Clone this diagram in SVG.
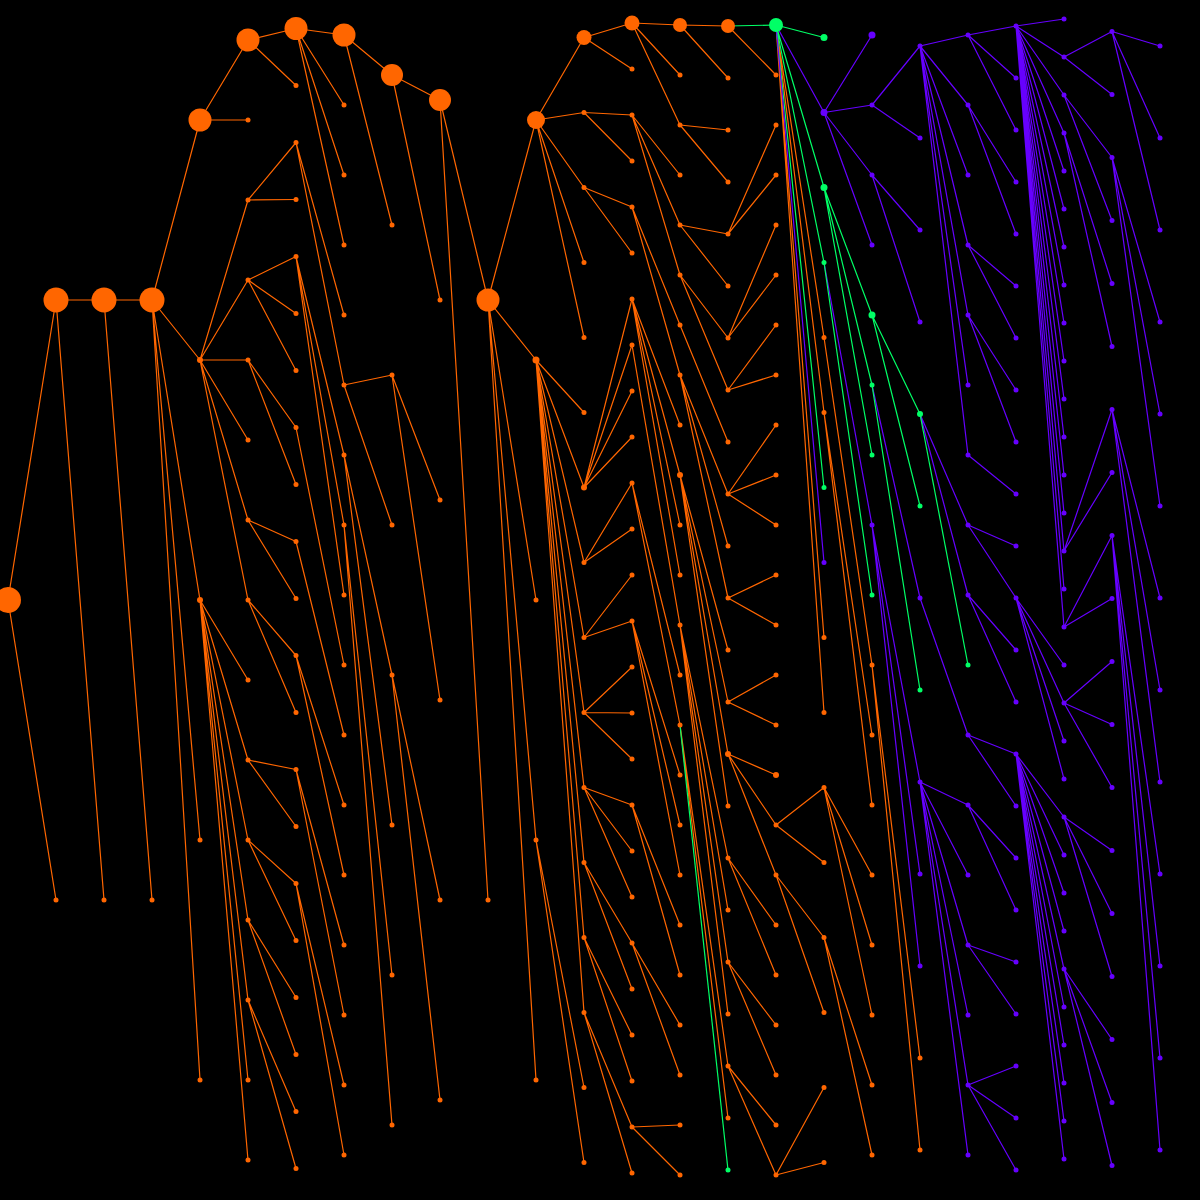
<svg xmlns="http://www.w3.org/2000/svg" width="1200" height="1200" viewBox="0 0 1200 1200">
<defs>
<style>
#edges path{fill:none;stroke-width:1.2}
path.o{stroke:#ff6600} path.g{stroke:#00ff66} path.p{stroke:#6600ff}
circle.o{fill:#ff6600} circle.g{fill:#00ff66} circle.p{fill:#6600ff}
</style>
</defs>
<rect width="1200" height="1200" fill="#000"/>
<g id="edges">
<path class="o" d="M8 600L56 300M8 600L56 900M56 300L104 300M56 300L104 900M104 300L152 300M104 300L152 900"/>
<path class="o" d="M152 300L200 120M152 300L200 360M152 300L200 600M152 300L200 840M152 300L200 1080"/>
<path class="o" d="M200 120L248 40M200 120L248 120M200 360L248 200M200 360L248 280M200 360L248 360M200 360L248 440M200 360L248 520M200 360L248 600M200 600L248 680M200 600L248 760M200 600L248 840M200 600L248 920M200 600L248 1000M200 600L248 1080M200 600L248 1160"/>
<path class="o" d="M248 40L296 28.5M248 40L296 85.5M248 200L296 142.5M248 200L296 199.5M248 280L296 256.5M248 280L296 313.5M248 280L296 370.5M248 360L296 427.5M248 360L296 484.5M248 520L296 541.5M248 520L296 598.5M248 600L296 655.5M248 600L296 712.5M248 760L296 769.5M248 760L296 826.5M248 840L296 883.5M248 840L296 940.5M248 920L296 997.5M248 920L296 1054.5M248 1000L296 1111.5M248 1000L296 1168.5"/>
<path class="o" d="M296 28.5L344 35M296 28.5L344 105M296 28.5L344 175M296 28.5L344 245M296 142.5L344 315M296 142.5L344 385M296 256.5L344 455M296 256.5L344 525M296 256.5L344 595M296 427.5L344 665M296 541.5L344 735M296 655.5L344 805M296 655.5L344 875M296 769.5L344 945M296 769.5L344 1015M296 883.5L344 1085M296 883.5L344 1155"/>
<path class="o" d="M344 35L392 75M344 35L392 225M344 385L392 375M344 385L392 525M344 455L392 675M344 455L392 825M344 525L392 975M344 525L392 1125"/>
<path class="o" d="M392 75L440 100M392 75L440 300M392 375L440 500M392 375L440 700M392 675L440 900M392 675L440 1100"/>
<path class="o" d="M440 100L488 300M440 100L488 900M488 300L536 120M488 300L536 360M488 300L536 600M488 300L536 840M488 300L536 1080"/>
<path class="o" d="M536 120L584 37.5M536 120L584 112.5M536 120L584 187.5M536 120L584 262.5M536 120L584 337.5M536 360L584 412.5M536 360L584 487.5M536 360L584 562.5M536 360L584 637.5M536 360L584 712.5M536 360L584 787.5M536 360L584 862.5M536 360L584 937.5M536 360L584 1012.5M536 840L584 1087.5M536 840L584 1162.5"/>
<path class="o" d="M584 37.5L632 23M584 37.5L632 69M584 112.5L632 115M584 112.5L632 161M584 187.5L632 207M584 187.5L632 253M584 487.5L632 299M584 487.5L632 345M584 487.5L632 391M584 487.5L632 437M584 562.5L632 483M584 562.5L632 529M584 637.5L632 575M584 637.5L632 621M584 712.5L632 667M584 712.5L632 713M584 712.5L632 759M584 787.5L632 805M584 787.5L632 851M584 787.5L632 897M584 862.5L632 943M584 862.5L632 989M584 937.5L632 1035M584 937.5L632 1081M584 1012.5L632 1127M584 1012.5L632 1173"/>
<path class="o" d="M632 23L680 25M632 23L680 75M632 23L680 125M632 115L680 175M632 115L680 225M632 115L680 275M632 207L680 325M632 207L680 375M632 299L680 425M632 299L680 475M632 299L680 525M632 299L680 575M632 345L680 625M632 483L680 675M632 483L680 725M632 621L680 775M632 621L680 825M632 621L680 875M632 805L680 925M632 805L680 975M632 943L680 1025M632 943L680 1075M632 1127L680 1125M632 1127L680 1175"/>
<path class="o" d="M680 25L728 26M680 25L728 78M680 125L728 130M680 125L728 182M680 225L728 234M680 225L728 286M680 275L728 338M680 275L728 390M680 325L728 442M680 375L728 494M680 375L728 546M680 375L728 598M680 475L728 650M680 475L728 702M680 475L728 754M680 475L728 806M680 625L728 858M680 625L728 910M680 625L728 962M680 625L728 1014M680 725L728 1066M680 725L728 1118"/>
<path class="g" d="M680 725L728 1170"/>
<path class="g" d="M728 26L776 25"/>
<path class="o" d="M728 26L776 75M728 234L776 125M728 234L776 175M728 338L776 225M728 338L776 275M728 390L776 325M728 390L776 375M728 494L776 425M728 494L776 475M728 494L776 525M728 598L776 575M728 598L776 625M728 702L776 675M728 702L776 725M728 754L776 775M728 754L776 825M728 754L776 875M728 858L776 925M728 858L776 975M728 962L776 1025M728 962L776 1075M728 1066L776 1125M728 1066L776 1175"/>
<path class="o" d="M776 25L824 337.5M776 25L824 412.5M776 25L824 637.5M776 25L824 712.5M776 825L824 787.5M776 825L824 862.5M776 875L824 937.5M776 875L824 1012.5M776 1175L824 1087.5M776 1175L824 1162.5"/>
<path class="g" d="M776 25L824 37.5M776 25L824 187.5M776 25L824 262.5M776 25L824 487.5"/>
<path class="p" d="M776 25L824 112.5M776 25L824 562.5"/>
<path class="p" d="M824 112.5L872 35M824 112.5L872 105M824 112.5L872 175M824 112.5L872 245M824 262.5L872 525"/>
<path class="g" d="M824 187.5L872 315M824 187.5L872 385M824 187.5L872 455M824 262.5L872 595"/>
<path class="o" d="M824 337.5L872 665M824 412.5L872 735M824 412.5L872 805M824 787.5L872 875M824 787.5L872 945M824 787.5L872 1015M824 937.5L872 1085M824 937.5L872 1155"/>
<path class="p" d="M872 105L920 46M872 105L920 138M872 175L920 230M872 175L920 322M872 385L920 598M872 525L920 782M872 525L920 874M872 525L920 966"/>
<path class="g" d="M872 315L920 414M872 315L920 506M872 385L920 690"/>
<path class="o" d="M872 665L920 1058M872 665L920 1150"/>
<path class="p" d="M920 46L968 35M920 46L968 105M920 46L968 175M920 46L968 245M920 46L968 315M920 46L968 385M920 46L968 455M920 414L968 525M920 414L968 595M920 598L968 735M920 782L968 805M920 782L968 875M920 782L968 945M920 782L968 1015M920 782L968 1085M920 782L968 1155"/>
<path class="g" d="M920 414L968 665"/>
<path class="p" d="M968 35L1016 26M968 35L1016 78M968 35L1016 130M968 105L1016 182M968 105L1016 234M968 245L1016 286M968 245L1016 338M968 315L1016 390M968 315L1016 442M968 455L1016 494M968 525L1016 546M968 525L1016 598M968 595L1016 650M968 595L1016 702M968 735L1016 754M968 735L1016 806M968 805L1016 858M968 805L1016 910M968 945L1016 962M968 945L1016 1014M968 1085L1016 1066M968 1085L1016 1118M968 1085L1016 1170"/>
<path class="p" d="M1016 26L1064 19M1016 26L1064 57M1016 26L1064 95M1016 26L1064 133M1016 26L1064 171M1016 26L1064 209M1016 26L1064 247M1016 26L1064 285M1016 26L1064 323M1016 26L1064 361M1016 26L1064 399M1016 26L1064 437M1016 26L1064 475M1016 26L1064 513M1016 26L1064 551M1016 26L1064 589M1016 26L1064 627M1016 598L1064 665M1016 598L1064 703M1016 598L1064 741M1016 598L1064 779M1016 754L1064 817M1016 754L1064 855M1016 754L1064 893M1016 754L1064 931M1016 754L1064 969M1016 754L1064 1007M1016 754L1064 1045M1016 754L1064 1083M1016 754L1064 1121M1016 754L1064 1159"/>
<path class="p" d="M1064 57L1112 31.5M1064 57L1112 94.5M1064 95L1112 157.5M1064 95L1112 220.5M1064 133L1112 283.5M1064 133L1112 346.5M1064 551L1112 409.5M1064 551L1112 472.5M1064 627L1112 535.5M1064 627L1112 598.5M1064 703L1112 661.5M1064 703L1112 724.5M1064 703L1112 787.5M1064 817L1112 850.5M1064 817L1112 913.5M1064 817L1112 976.5M1064 969L1112 1039.5M1064 969L1112 1102.5M1064 969L1112 1165.5"/>
<path class="p" d="M1112 31.5L1160 46M1112 31.5L1160 138M1112 31.5L1160 230M1112 157.5L1160 322M1112 157.5L1160 414M1112 157.5L1160 506M1112 409.5L1160 598M1112 409.5L1160 690M1112 409.5L1160 782M1112 535.5L1160 874M1112 535.5L1160 966M1112 535.5L1160 1058M1112 535.5L1160 1150"/>
</g>
<g id="nodes">
<g id="n0-0"><circle class="o" cx="8" cy="600" r="13"/></g>
<g id="n1-0"><circle class="o" cx="56" cy="300" r="12.5"/></g>
<g id="n1-1"><circle class="o" cx="56" cy="900" r="2.5"/></g>
<g id="n2-0"><circle class="o" cx="104" cy="300" r="12.5"/></g>
<g id="n2-1"><circle class="o" cx="104" cy="900" r="2.5"/></g>
<g id="n3-0"><circle class="o" cx="152" cy="300" r="12.5"/></g>
<g id="n3-1"><circle class="o" cx="152" cy="900" r="2.5"/></g>
<g id="n4-0"><circle class="o" cx="200" cy="120" r="11.5"/></g>
<g id="n4-1"><circle class="o" cx="200" cy="360" r="3"/></g>
<g id="n4-2"><circle class="o" cx="200" cy="600" r="3"/></g>
<g id="n4-3"><circle class="o" cx="200" cy="840" r="2.5"/></g>
<g id="n4-4"><circle class="o" cx="200" cy="1080" r="2.5"/></g>
<g id="n5-0"><circle class="o" cx="248" cy="40" r="11.5"/></g>
<g id="n5-1"><circle class="o" cx="248" cy="120" r="2.5"/></g>
<g id="n5-2"><circle class="o" cx="248" cy="200" r="2.5"/></g>
<g id="n5-3"><circle class="o" cx="248" cy="280" r="2.5"/></g>
<g id="n5-4"><circle class="o" cx="248" cy="360" r="2.5"/></g>
<g id="n5-5"><circle class="o" cx="248" cy="440" r="2.5"/></g>
<g id="n5-6"><circle class="o" cx="248" cy="520" r="2.5"/></g>
<g id="n5-7"><circle class="o" cx="248" cy="600" r="2.5"/></g>
<g id="n5-8"><circle class="o" cx="248" cy="680" r="2.5"/></g>
<g id="n5-9"><circle class="o" cx="248" cy="760" r="2.5"/></g>
<g id="n5-10"><circle class="o" cx="248" cy="840" r="2.5"/></g>
<g id="n5-11"><circle class="o" cx="248" cy="920" r="2.5"/></g>
<g id="n5-12"><circle class="o" cx="248" cy="1000" r="2.5"/></g>
<g id="n5-13"><circle class="o" cx="248" cy="1080" r="2.5"/></g>
<g id="n5-14"><circle class="o" cx="248" cy="1160" r="2.5"/></g>
<g id="n6-0"><circle class="o" cx="296" cy="28.5" r="11.5"/></g>
<g id="n6-1"><circle class="o" cx="296" cy="85.5" r="2.5"/></g>
<g id="n6-2"><circle class="o" cx="296" cy="142.5" r="2.5"/></g>
<g id="n6-3"><circle class="o" cx="296" cy="199.5" r="2.5"/></g>
<g id="n6-4"><circle class="o" cx="296" cy="256.5" r="2.5"/></g>
<g id="n6-5"><circle class="o" cx="296" cy="313.5" r="2.5"/></g>
<g id="n6-6"><circle class="o" cx="296" cy="370.5" r="2.5"/></g>
<g id="n6-7"><circle class="o" cx="296" cy="427.5" r="2.5"/></g>
<g id="n6-8"><circle class="o" cx="296" cy="484.5" r="2.5"/></g>
<g id="n6-9"><circle class="o" cx="296" cy="541.5" r="2.5"/></g>
<g id="n6-10"><circle class="o" cx="296" cy="598.5" r="2.5"/></g>
<g id="n6-11"><circle class="o" cx="296" cy="655.5" r="2.5"/></g>
<g id="n6-12"><circle class="o" cx="296" cy="712.5" r="2.5"/></g>
<g id="n6-13"><circle class="o" cx="296" cy="769.5" r="2.5"/></g>
<g id="n6-14"><circle class="o" cx="296" cy="826.5" r="2.5"/></g>
<g id="n6-15"><circle class="o" cx="296" cy="883.5" r="2.5"/></g>
<g id="n6-16"><circle class="o" cx="296" cy="940.5" r="2.5"/></g>
<g id="n6-17"><circle class="o" cx="296" cy="997.5" r="2.5"/></g>
<g id="n6-18"><circle class="o" cx="296" cy="1054.5" r="2.5"/></g>
<g id="n6-19"><circle class="o" cx="296" cy="1111.5" r="2.5"/></g>
<g id="n6-20"><circle class="o" cx="296" cy="1168.5" r="2.5"/></g>
<g id="n7-0"><circle class="o" cx="344" cy="35" r="11.5"/></g>
<g id="n7-1"><circle class="o" cx="344" cy="105" r="2.5"/></g>
<g id="n7-2"><circle class="o" cx="344" cy="175" r="2.5"/></g>
<g id="n7-3"><circle class="o" cx="344" cy="245" r="2.5"/></g>
<g id="n7-4"><circle class="o" cx="344" cy="315" r="2.5"/></g>
<g id="n7-5"><circle class="o" cx="344" cy="385" r="2.5"/></g>
<g id="n7-6"><circle class="o" cx="344" cy="455" r="2.5"/></g>
<g id="n7-7"><circle class="o" cx="344" cy="525" r="2.5"/></g>
<g id="n7-8"><circle class="o" cx="344" cy="595" r="2.5"/></g>
<g id="n7-9"><circle class="o" cx="344" cy="665" r="2.5"/></g>
<g id="n7-10"><circle class="o" cx="344" cy="735" r="2.5"/></g>
<g id="n7-11"><circle class="o" cx="344" cy="805" r="2.5"/></g>
<g id="n7-12"><circle class="o" cx="344" cy="875" r="2.5"/></g>
<g id="n7-13"><circle class="o" cx="344" cy="945" r="2.5"/></g>
<g id="n7-14"><circle class="o" cx="344" cy="1015" r="2.5"/></g>
<g id="n7-15"><circle class="o" cx="344" cy="1085" r="2.5"/></g>
<g id="n7-16"><circle class="o" cx="344" cy="1155" r="2.5"/></g>
<g id="n8-0"><circle class="o" cx="392" cy="75" r="11"/></g>
<g id="n8-1"><circle class="o" cx="392" cy="225" r="2.5"/></g>
<g id="n8-2"><circle class="o" cx="392" cy="375" r="2.5"/></g>
<g id="n8-3"><circle class="o" cx="392" cy="525" r="2.5"/></g>
<g id="n8-4"><circle class="o" cx="392" cy="675" r="2.5"/></g>
<g id="n8-5"><circle class="o" cx="392" cy="825" r="2.5"/></g>
<g id="n8-6"><circle class="o" cx="392" cy="975" r="2.5"/></g>
<g id="n8-7"><circle class="o" cx="392" cy="1125" r="2.5"/></g>
<g id="n9-0"><circle class="o" cx="440" cy="100" r="11"/></g>
<g id="n9-1"><circle class="o" cx="440" cy="300" r="2.5"/></g>
<g id="n9-2"><circle class="o" cx="440" cy="500" r="2.5"/></g>
<g id="n9-3"><circle class="o" cx="440" cy="700" r="2.5"/></g>
<g id="n9-4"><circle class="o" cx="440" cy="900" r="2.5"/></g>
<g id="n9-5"><circle class="o" cx="440" cy="1100" r="2.5"/></g>
<g id="n10-0"><circle class="o" cx="488" cy="300" r="11.5"/></g>
<g id="n10-1"><circle class="o" cx="488" cy="900" r="2.5"/></g>
<g id="n11-0"><circle class="o" cx="536" cy="120" r="9"/></g>
<g id="n11-1"><circle class="o" cx="536" cy="360" r="3.5"/></g>
<g id="n11-2"><circle class="o" cx="536" cy="600" r="2.5"/></g>
<g id="n11-3"><circle class="o" cx="536" cy="840" r="2.5"/></g>
<g id="n11-4"><circle class="o" cx="536" cy="1080" r="2.5"/></g>
<g id="n12-0"><circle class="o" cx="584" cy="37.5" r="7.5"/></g>
<g id="n12-1"><circle class="o" cx="584" cy="112.5" r="2.5"/></g>
<g id="n12-2"><circle class="o" cx="584" cy="187.5" r="2.5"/></g>
<g id="n12-3"><circle class="o" cx="584" cy="262.5" r="2.5"/></g>
<g id="n12-4"><circle class="o" cx="584" cy="337.5" r="2.5"/></g>
<g id="n12-5"><circle class="o" cx="584" cy="412.5" r="2.5"/></g>
<g id="n12-6"><circle class="o" cx="584" cy="487.5" r="3"/></g>
<g id="n12-7"><circle class="o" cx="584" cy="562.5" r="2.5"/></g>
<g id="n12-8"><circle class="o" cx="584" cy="637.5" r="2.5"/></g>
<g id="n12-9"><circle class="o" cx="584" cy="712.5" r="2.5"/></g>
<g id="n12-10"><circle class="o" cx="584" cy="787.5" r="2.5"/></g>
<g id="n12-11"><circle class="o" cx="584" cy="862.5" r="2.5"/></g>
<g id="n12-12"><circle class="o" cx="584" cy="937.5" r="2.5"/></g>
<g id="n12-13"><circle class="o" cx="584" cy="1012.5" r="2.5"/></g>
<g id="n12-14"><circle class="o" cx="584" cy="1087.5" r="2.5"/></g>
<g id="n12-15"><circle class="o" cx="584" cy="1162.5" r="2.5"/></g>
<g id="n13-0"><circle class="o" cx="632" cy="23" r="7.5"/></g>
<g id="n13-1"><circle class="o" cx="632" cy="69" r="2.5"/></g>
<g id="n13-2"><circle class="o" cx="632" cy="115" r="2.5"/></g>
<g id="n13-3"><circle class="o" cx="632" cy="161" r="2.5"/></g>
<g id="n13-4"><circle class="o" cx="632" cy="207" r="2.5"/></g>
<g id="n13-5"><circle class="o" cx="632" cy="253" r="2.5"/></g>
<g id="n13-6"><circle class="o" cx="632" cy="299" r="2.5"/></g>
<g id="n13-7"><circle class="o" cx="632" cy="345" r="2.5"/></g>
<g id="n13-8"><circle class="o" cx="632" cy="391" r="2.5"/></g>
<g id="n13-9"><circle class="o" cx="632" cy="437" r="2.5"/></g>
<g id="n13-10"><circle class="o" cx="632" cy="483" r="2.5"/></g>
<g id="n13-11"><circle class="o" cx="632" cy="529" r="2.5"/></g>
<g id="n13-12"><circle class="o" cx="632" cy="575" r="2.5"/></g>
<g id="n13-13"><circle class="o" cx="632" cy="621" r="2.5"/></g>
<g id="n13-14"><circle class="o" cx="632" cy="667" r="2.5"/></g>
<g id="n13-15"><circle class="o" cx="632" cy="713" r="2.5"/></g>
<g id="n13-16"><circle class="o" cx="632" cy="759" r="2.5"/></g>
<g id="n13-17"><circle class="o" cx="632" cy="805" r="2.5"/></g>
<g id="n13-18"><circle class="o" cx="632" cy="851" r="2.5"/></g>
<g id="n13-19"><circle class="o" cx="632" cy="897" r="2.5"/></g>
<g id="n13-20"><circle class="o" cx="632" cy="943" r="2.5"/></g>
<g id="n13-21"><circle class="o" cx="632" cy="989" r="2.5"/></g>
<g id="n13-22"><circle class="o" cx="632" cy="1035" r="2.5"/></g>
<g id="n13-23"><circle class="o" cx="632" cy="1081" r="2.5"/></g>
<g id="n13-24"><circle class="o" cx="632" cy="1127" r="2.5"/></g>
<g id="n13-25"><circle class="o" cx="632" cy="1173" r="2.5"/></g>
<g id="n14-0"><circle class="o" cx="680" cy="25" r="7"/></g>
<g id="n14-1"><circle class="o" cx="680" cy="75" r="2.5"/></g>
<g id="n14-2"><circle class="o" cx="680" cy="125" r="2.5"/></g>
<g id="n14-3"><circle class="o" cx="680" cy="175" r="2.5"/></g>
<g id="n14-4"><circle class="o" cx="680" cy="225" r="2.5"/></g>
<g id="n14-5"><circle class="o" cx="680" cy="275" r="2.5"/></g>
<g id="n14-6"><circle class="o" cx="680" cy="325" r="2.5"/></g>
<g id="n14-7"><circle class="o" cx="680" cy="375" r="2.5"/></g>
<g id="n14-8"><circle class="o" cx="680" cy="425" r="2.5"/></g>
<g id="n14-9"><circle class="o" cx="680" cy="475" r="3"/></g>
<g id="n14-10"><circle class="o" cx="680" cy="525" r="2.5"/></g>
<g id="n14-11"><circle class="o" cx="680" cy="575" r="2.5"/></g>
<g id="n14-12"><circle class="o" cx="680" cy="625" r="2.5"/></g>
<g id="n14-13"><circle class="o" cx="680" cy="675" r="2.5"/></g>
<g id="n14-14"><circle class="o" cx="680" cy="725" r="2.5"/></g>
<g id="n14-15"><circle class="o" cx="680" cy="775" r="2.5"/></g>
<g id="n14-16"><circle class="o" cx="680" cy="825" r="2.5"/></g>
<g id="n14-17"><circle class="o" cx="680" cy="875" r="2.5"/></g>
<g id="n14-18"><circle class="o" cx="680" cy="925" r="2.5"/></g>
<g id="n14-19"><circle class="o" cx="680" cy="975" r="2.5"/></g>
<g id="n14-20"><circle class="o" cx="680" cy="1025" r="2.5"/></g>
<g id="n14-21"><circle class="o" cx="680" cy="1075" r="2.5"/></g>
<g id="n14-22"><circle class="o" cx="680" cy="1125" r="2.5"/></g>
<g id="n14-23"><circle class="o" cx="680" cy="1175" r="2.5"/></g>
<g id="n15-0"><circle class="o" cx="728" cy="26" r="7"/></g>
<g id="n15-1"><circle class="o" cx="728" cy="78" r="2.5"/></g>
<g id="n15-2"><circle class="o" cx="728" cy="130" r="2.5"/></g>
<g id="n15-3"><circle class="o" cx="728" cy="182" r="2.5"/></g>
<g id="n15-4"><circle class="o" cx="728" cy="234" r="2.5"/></g>
<g id="n15-5"><circle class="o" cx="728" cy="286" r="2.5"/></g>
<g id="n15-6"><circle class="o" cx="728" cy="338" r="2.5"/></g>
<g id="n15-7"><circle class="o" cx="728" cy="390" r="2.5"/></g>
<g id="n15-8"><circle class="o" cx="728" cy="442" r="2.5"/></g>
<g id="n15-9"><circle class="o" cx="728" cy="494" r="2.5"/></g>
<g id="n15-10"><circle class="o" cx="728" cy="546" r="2.5"/></g>
<g id="n15-11"><circle class="o" cx="728" cy="598" r="2.5"/></g>
<g id="n15-12"><circle class="o" cx="728" cy="650" r="2.5"/></g>
<g id="n15-13"><circle class="o" cx="728" cy="702" r="2.5"/></g>
<g id="n15-14"><circle class="o" cx="728" cy="754" r="3"/></g>
<g id="n15-15"><circle class="o" cx="728" cy="806" r="2.5"/></g>
<g id="n15-16"><circle class="o" cx="728" cy="858" r="2.5"/></g>
<g id="n15-17"><circle class="o" cx="728" cy="910" r="2.5"/></g>
<g id="n15-18"><circle class="o" cx="728" cy="962" r="2.5"/></g>
<g id="n15-19"><circle class="o" cx="728" cy="1014" r="2.5"/></g>
<g id="n15-20"><circle class="o" cx="728" cy="1066" r="2.5"/></g>
<g id="n15-21"><circle class="o" cx="728" cy="1118" r="2.5"/></g>
<g id="n15-22"><circle class="g" cx="728" cy="1170" r="2.5"/></g>
<g id="n16-0"><circle class="g" cx="776" cy="25" r="7"/></g>
<g id="n16-1"><circle class="o" cx="776" cy="75" r="2.5"/></g>
<g id="n16-2"><circle class="o" cx="776" cy="125" r="2.5"/></g>
<g id="n16-3"><circle class="o" cx="776" cy="175" r="2.5"/></g>
<g id="n16-4"><circle class="o" cx="776" cy="225" r="2.5"/></g>
<g id="n16-5"><circle class="o" cx="776" cy="275" r="2.5"/></g>
<g id="n16-6"><circle class="o" cx="776" cy="325" r="2.5"/></g>
<g id="n16-7"><circle class="o" cx="776" cy="375" r="2.5"/></g>
<g id="n16-8"><circle class="o" cx="776" cy="425" r="2.5"/></g>
<g id="n16-9"><circle class="o" cx="776" cy="475" r="2.5"/></g>
<g id="n16-10"><circle class="o" cx="776" cy="525" r="2.5"/></g>
<g id="n16-11"><circle class="o" cx="776" cy="575" r="2.5"/></g>
<g id="n16-12"><circle class="o" cx="776" cy="625" r="2.5"/></g>
<g id="n16-13"><circle class="o" cx="776" cy="675" r="2.5"/></g>
<g id="n16-14"><circle class="o" cx="776" cy="725" r="2.5"/></g>
<g id="n16-15"><circle class="o" cx="776" cy="775" r="3"/></g>
<g id="n16-16"><circle class="o" cx="776" cy="825" r="2.5"/></g>
<g id="n16-17"><circle class="o" cx="776" cy="875" r="2.5"/></g>
<g id="n16-18"><circle class="o" cx="776" cy="925" r="2.5"/></g>
<g id="n16-19"><circle class="o" cx="776" cy="975" r="2.5"/></g>
<g id="n16-20"><circle class="o" cx="776" cy="1025" r="2.5"/></g>
<g id="n16-21"><circle class="o" cx="776" cy="1075" r="2.5"/></g>
<g id="n16-22"><circle class="o" cx="776" cy="1125" r="2.5"/></g>
<g id="n16-23"><circle class="o" cx="776" cy="1175" r="2.5"/></g>
<g id="n17-0"><circle class="g" cx="824" cy="37.5" r="3.5"/></g>
<g id="n17-1"><circle class="p" cx="824" cy="112.5" r="3.5"/></g>
<g id="n17-2"><circle class="g" cx="824" cy="187.5" r="3.5"/></g>
<g id="n17-3"><circle class="g" cx="824" cy="262.5" r="2.5"/></g>
<g id="n17-4"><circle class="o" cx="824" cy="337.5" r="2.5"/></g>
<g id="n17-5"><circle class="o" cx="824" cy="412.5" r="2.5"/></g>
<g id="n17-6"><circle class="g" cx="824" cy="487.5" r="2.5"/></g>
<g id="n17-7"><circle class="p" cx="824" cy="562.5" r="2.5"/></g>
<g id="n17-8"><circle class="o" cx="824" cy="637.5" r="2.5"/></g>
<g id="n17-9"><circle class="o" cx="824" cy="712.5" r="2.5"/></g>
<g id="n17-10"><circle class="o" cx="824" cy="787.5" r="2.5"/></g>
<g id="n17-11"><circle class="o" cx="824" cy="862.5" r="2.5"/></g>
<g id="n17-12"><circle class="o" cx="824" cy="937.5" r="2.5"/></g>
<g id="n17-13"><circle class="o" cx="824" cy="1012.5" r="2.5"/></g>
<g id="n17-14"><circle class="o" cx="824" cy="1087.5" r="2.5"/></g>
<g id="n17-15"><circle class="o" cx="824" cy="1162.5" r="2.5"/></g>
<g id="n18-0"><circle class="p" cx="872" cy="35" r="3.5"/></g>
<g id="n18-1"><circle class="p" cx="872" cy="105" r="2.5"/></g>
<g id="n18-2"><circle class="p" cx="872" cy="175" r="2.5"/></g>
<g id="n18-3"><circle class="p" cx="872" cy="245" r="2.5"/></g>
<g id="n18-4"><circle class="g" cx="872" cy="315" r="3.5"/></g>
<g id="n18-5"><circle class="g" cx="872" cy="385" r="2.5"/></g>
<g id="n18-6"><circle class="g" cx="872" cy="455" r="2.5"/></g>
<g id="n18-7"><circle class="p" cx="872" cy="525" r="2.5"/></g>
<g id="n18-8"><circle class="g" cx="872" cy="595" r="2.5"/></g>
<g id="n18-9"><circle class="o" cx="872" cy="665" r="2.5"/></g>
<g id="n18-10"><circle class="o" cx="872" cy="735" r="2.5"/></g>
<g id="n18-11"><circle class="o" cx="872" cy="805" r="2.5"/></g>
<g id="n18-12"><circle class="o" cx="872" cy="875" r="2.5"/></g>
<g id="n18-13"><circle class="o" cx="872" cy="945" r="2.5"/></g>
<g id="n18-14"><circle class="o" cx="872" cy="1015" r="2.5"/></g>
<g id="n18-15"><circle class="o" cx="872" cy="1085" r="2.5"/></g>
<g id="n18-16"><circle class="o" cx="872" cy="1155" r="2.5"/></g>
<g id="n19-0"><circle class="p" cx="920" cy="46" r="2.5"/></g>
<g id="n19-1"><circle class="p" cx="920" cy="138" r="2.5"/></g>
<g id="n19-2"><circle class="p" cx="920" cy="230" r="2.5"/></g>
<g id="n19-3"><circle class="p" cx="920" cy="322" r="2.5"/></g>
<g id="n19-4"><circle class="g" cx="920" cy="414" r="3"/></g>
<g id="n19-5"><circle class="g" cx="920" cy="506" r="2.5"/></g>
<g id="n19-6"><circle class="p" cx="920" cy="598" r="2.5"/></g>
<g id="n19-7"><circle class="g" cx="920" cy="690" r="2.5"/></g>
<g id="n19-8"><circle class="p" cx="920" cy="782" r="2.5"/></g>
<g id="n19-9"><circle class="p" cx="920" cy="874" r="2.5"/></g>
<g id="n19-10"><circle class="p" cx="920" cy="966" r="2.5"/></g>
<g id="n19-11"><circle class="o" cx="920" cy="1058" r="2.5"/></g>
<g id="n19-12"><circle class="o" cx="920" cy="1150" r="2.5"/></g>
<g id="n20-0"><circle class="p" cx="968" cy="35" r="2.5"/></g>
<g id="n20-1"><circle class="p" cx="968" cy="105" r="2.5"/></g>
<g id="n20-2"><circle class="p" cx="968" cy="175" r="2.5"/></g>
<g id="n20-3"><circle class="p" cx="968" cy="245" r="2.5"/></g>
<g id="n20-4"><circle class="p" cx="968" cy="315" r="2.5"/></g>
<g id="n20-5"><circle class="p" cx="968" cy="385" r="2.5"/></g>
<g id="n20-6"><circle class="p" cx="968" cy="455" r="2.5"/></g>
<g id="n20-7"><circle class="p" cx="968" cy="525" r="2.5"/></g>
<g id="n20-8"><circle class="p" cx="968" cy="595" r="2.5"/></g>
<g id="n20-9"><circle class="g" cx="968" cy="665" r="2.5"/></g>
<g id="n20-10"><circle class="p" cx="968" cy="735" r="2.5"/></g>
<g id="n20-11"><circle class="p" cx="968" cy="805" r="2.5"/></g>
<g id="n20-12"><circle class="p" cx="968" cy="875" r="2.5"/></g>
<g id="n20-13"><circle class="p" cx="968" cy="945" r="2.5"/></g>
<g id="n20-14"><circle class="p" cx="968" cy="1015" r="2.5"/></g>
<g id="n20-15"><circle class="p" cx="968" cy="1085" r="2.5"/></g>
<g id="n20-16"><circle class="p" cx="968" cy="1155" r="2.5"/></g>
<g id="n21-0"><circle class="p" cx="1016" cy="26" r="2.5"/></g>
<g id="n21-1"><circle class="p" cx="1016" cy="78" r="2.5"/></g>
<g id="n21-2"><circle class="p" cx="1016" cy="130" r="2.5"/></g>
<g id="n21-3"><circle class="p" cx="1016" cy="182" r="2.5"/></g>
<g id="n21-4"><circle class="p" cx="1016" cy="234" r="2.5"/></g>
<g id="n21-5"><circle class="p" cx="1016" cy="286" r="2.5"/></g>
<g id="n21-6"><circle class="p" cx="1016" cy="338" r="2.5"/></g>
<g id="n21-7"><circle class="p" cx="1016" cy="390" r="2.5"/></g>
<g id="n21-8"><circle class="p" cx="1016" cy="442" r="2.5"/></g>
<g id="n21-9"><circle class="p" cx="1016" cy="494" r="2.5"/></g>
<g id="n21-10"><circle class="p" cx="1016" cy="546" r="2.5"/></g>
<g id="n21-11"><circle class="p" cx="1016" cy="598" r="2.5"/></g>
<g id="n21-12"><circle class="p" cx="1016" cy="650" r="2.5"/></g>
<g id="n21-13"><circle class="p" cx="1016" cy="702" r="2.5"/></g>
<g id="n21-14"><circle class="p" cx="1016" cy="754" r="2.5"/></g>
<g id="n21-15"><circle class="p" cx="1016" cy="806" r="2.5"/></g>
<g id="n21-16"><circle class="p" cx="1016" cy="858" r="2.5"/></g>
<g id="n21-17"><circle class="p" cx="1016" cy="910" r="2.5"/></g>
<g id="n21-18"><circle class="p" cx="1016" cy="962" r="2.5"/></g>
<g id="n21-19"><circle class="p" cx="1016" cy="1014" r="2.5"/></g>
<g id="n21-20"><circle class="p" cx="1016" cy="1066" r="2.5"/></g>
<g id="n21-21"><circle class="p" cx="1016" cy="1118" r="2.5"/></g>
<g id="n21-22"><circle class="p" cx="1016" cy="1170" r="2.5"/></g>
<g id="n22-0"><circle class="p" cx="1064" cy="19" r="2.5"/></g>
<g id="n22-1"><circle class="p" cx="1064" cy="57" r="2.5"/></g>
<g id="n22-2"><circle class="p" cx="1064" cy="95" r="2.5"/></g>
<g id="n22-3"><circle class="p" cx="1064" cy="133" r="2.5"/></g>
<g id="n22-4"><circle class="p" cx="1064" cy="171" r="2.5"/></g>
<g id="n22-5"><circle class="p" cx="1064" cy="209" r="2.5"/></g>
<g id="n22-6"><circle class="p" cx="1064" cy="247" r="2.5"/></g>
<g id="n22-7"><circle class="p" cx="1064" cy="285" r="2.5"/></g>
<g id="n22-8"><circle class="p" cx="1064" cy="323" r="2.5"/></g>
<g id="n22-9"><circle class="p" cx="1064" cy="361" r="2.5"/></g>
<g id="n22-10"><circle class="p" cx="1064" cy="399" r="2.5"/></g>
<g id="n22-11"><circle class="p" cx="1064" cy="437" r="2.5"/></g>
<g id="n22-12"><circle class="p" cx="1064" cy="475" r="2.5"/></g>
<g id="n22-13"><circle class="p" cx="1064" cy="513" r="2.5"/></g>
<g id="n22-14"><circle class="p" cx="1064" cy="551" r="2.5"/></g>
<g id="n22-15"><circle class="p" cx="1064" cy="589" r="2.5"/></g>
<g id="n22-16"><circle class="p" cx="1064" cy="627" r="2.5"/></g>
<g id="n22-17"><circle class="p" cx="1064" cy="665" r="2.5"/></g>
<g id="n22-18"><circle class="p" cx="1064" cy="703" r="2.5"/></g>
<g id="n22-19"><circle class="p" cx="1064" cy="741" r="2.5"/></g>
<g id="n22-20"><circle class="p" cx="1064" cy="779" r="2.5"/></g>
<g id="n22-21"><circle class="p" cx="1064" cy="817" r="2.5"/></g>
<g id="n22-22"><circle class="p" cx="1064" cy="855" r="2.5"/></g>
<g id="n22-23"><circle class="p" cx="1064" cy="893" r="2.5"/></g>
<g id="n22-24"><circle class="p" cx="1064" cy="931" r="2.5"/></g>
<g id="n22-25"><circle class="p" cx="1064" cy="969" r="2.5"/></g>
<g id="n22-26"><circle class="p" cx="1064" cy="1007" r="2.5"/></g>
<g id="n22-27"><circle class="p" cx="1064" cy="1045" r="2.5"/></g>
<g id="n22-28"><circle class="p" cx="1064" cy="1083" r="2.5"/></g>
<g id="n22-29"><circle class="p" cx="1064" cy="1121" r="2.5"/></g>
<g id="n22-30"><circle class="p" cx="1064" cy="1159" r="2.5"/></g>
<g id="n23-0"><circle class="p" cx="1112" cy="31.5" r="2.5"/></g>
<g id="n23-1"><circle class="p" cx="1112" cy="94.5" r="2.5"/></g>
<g id="n23-2"><circle class="p" cx="1112" cy="157.5" r="2.5"/></g>
<g id="n23-3"><circle class="p" cx="1112" cy="220.5" r="2.5"/></g>
<g id="n23-4"><circle class="p" cx="1112" cy="283.5" r="2.5"/></g>
<g id="n23-5"><circle class="p" cx="1112" cy="346.5" r="2.5"/></g>
<g id="n23-6"><circle class="p" cx="1112" cy="409.5" r="2.5"/></g>
<g id="n23-7"><circle class="p" cx="1112" cy="472.5" r="2.5"/></g>
<g id="n23-8"><circle class="p" cx="1112" cy="535.5" r="2.5"/></g>
<g id="n23-9"><circle class="p" cx="1112" cy="598.5" r="2.5"/></g>
<g id="n23-10"><circle class="p" cx="1112" cy="661.5" r="2.5"/></g>
<g id="n23-11"><circle class="p" cx="1112" cy="724.5" r="2.5"/></g>
<g id="n23-12"><circle class="p" cx="1112" cy="787.5" r="2.5"/></g>
<g id="n23-13"><circle class="p" cx="1112" cy="850.5" r="2.5"/></g>
<g id="n23-14"><circle class="p" cx="1112" cy="913.5" r="2.5"/></g>
<g id="n23-15"><circle class="p" cx="1112" cy="976.5" r="2.5"/></g>
<g id="n23-16"><circle class="p" cx="1112" cy="1039.5" r="2.5"/></g>
<g id="n23-17"><circle class="p" cx="1112" cy="1102.5" r="2.5"/></g>
<g id="n23-18"><circle class="p" cx="1112" cy="1165.5" r="2.5"/></g>
<g id="n24-0"><circle class="p" cx="1160" cy="46" r="2.5"/></g>
<g id="n24-1"><circle class="p" cx="1160" cy="138" r="2.5"/></g>
<g id="n24-2"><circle class="p" cx="1160" cy="230" r="2.5"/></g>
<g id="n24-3"><circle class="p" cx="1160" cy="322" r="2.5"/></g>
<g id="n24-4"><circle class="p" cx="1160" cy="414" r="2.5"/></g>
<g id="n24-5"><circle class="p" cx="1160" cy="506" r="2.5"/></g>
<g id="n24-6"><circle class="p" cx="1160" cy="598" r="2.5"/></g>
<g id="n24-7"><circle class="p" cx="1160" cy="690" r="2.5"/></g>
<g id="n24-8"><circle class="p" cx="1160" cy="782" r="2.5"/></g>
<g id="n24-9"><circle class="p" cx="1160" cy="874" r="2.5"/></g>
<g id="n24-10"><circle class="p" cx="1160" cy="966" r="2.5"/></g>
<g id="n24-11"><circle class="p" cx="1160" cy="1058" r="2.5"/></g>
<g id="n24-12"><circle class="p" cx="1160" cy="1150" r="2.5"/></g>
</g>
</svg>
